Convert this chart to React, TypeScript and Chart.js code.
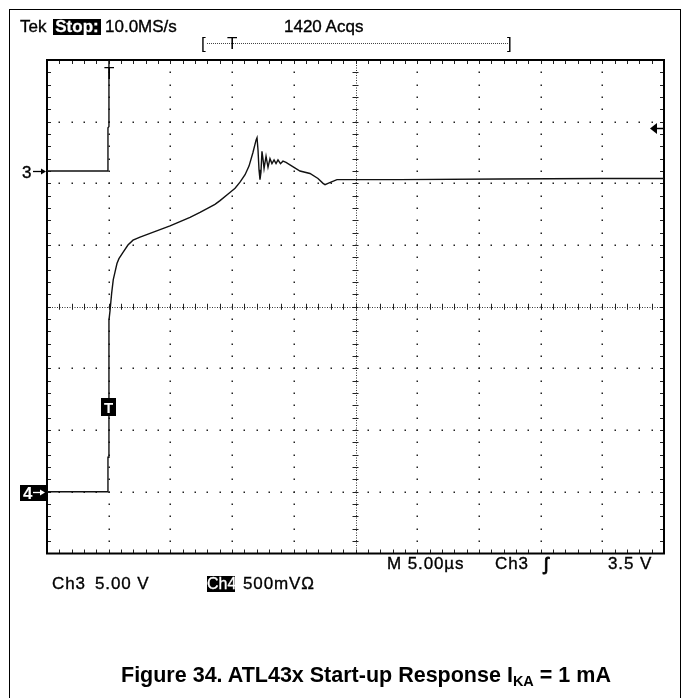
import React, { useEffect, useRef } from "react";
import { Chart, registerables } from "chart.js";

Chart.register(...registerables);

// ---- data (time in µs, volts per channel) ----
const ch4TimeUs = [
  0, 4.94, 4.94, 5.02, 5.02, 5.11, 5.24, 5.37, 5.51, 5.67, 5.83, 6.16, 6.56, 6.97, 7.54, 8.35, 9.16,
  9.97, 10.78, 11.59, 12.4, 12.97, 13.61, 14.02, 14.75, 15.24, 15.64, 16.05, 16.37, 16.69, 16.94,
  17.02, 17.1, 17.18, 17.26, 17.34, 17.42, 17.5, 17.59, 17.75, 17.91, 18.07, 18.23, 18.4, 18.56,
  18.72, 18.92, 19.12, 19.37, 19.69, 20.5, 21.31, 21.96, 22.37, 22.53, 22.77, 23.01, 23.5, 24.96,
  28.61, 36.71, 44.81, 50,
];
const ch4Volts = [
  0, 0, 0.28, 0.28, 1.39, 1.47, 1.61, 1.72, 1.78, 1.85, 1.89, 1.94, 2.0, 2.04, 2.065, 2.095, 2.125,
  2.155, 2.19, 2.225, 2.265, 2.295, 2.33, 2.36, 2.42, 2.46, 2.51, 2.57, 2.64, 2.75, 2.85,
  2.87, 2.77, 2.61, 2.53, 2.59, 2.76, 2.7, 2.62, 2.72, 2.63, 2.7, 2.66, 2.69, 2.66,
  2.69, 2.66, 2.68, 2.67, 2.65, 2.6, 2.58, 2.54, 2.5, 2.49, 2.5, 2.51, 2.53, 2.53,
  2.53, 2.535, 2.54, 2.54,
];
const ch3TimeUs = [0, 4.94, 4.94, 5.02, 5.02];
const ch3Volts = [0, 0, 3.5, 3.6, 12];

const timeDivTicksUs = [0, 5, 10, 15, 20, 25, 30, 35, 40, 45, 50];
const ch4DivTicksV = [-0.5, 0, 0.5, 1, 1.5, 2, 2.5, 3, 3.5];
const ch3RangeV = [-31, 9];
const ch3TriggerLevelV = 3.5;
const triggerTimeUs = 5;
const minorPerDiv = 5;

const FONT = '"Liberation Sans", Arial, Helvetica, sans-serif';

const graticule = {
  id: "graticule",
  beforeDatasetsDraw(chart: any) {
    const { ctx, chartArea: a, scales } = chart;
    const xs = scales.x;
    const ys = scales.y4;
    const xp = timeDivTicksUs.map((v) => xs.getPixelForValue(v));
    const yp = ch4DivTicksV.map((v) => ys.getPixelForValue(v));
    const nX = xp.length - 1;
    const nY = yp.length - 1;
    const cx = xp[nX / 2];
    const cy = yp[nY / 2];
    const dx = (a.right - a.left) / nX / minorPerDiv;
    const dy = (a.bottom - a.top) / nY / minorPerDiv;
    ctx.save();
    ctx.fillStyle = "#222";
    const dot = (x: number, y: number) => ctx.fillRect(Math.round(x) - 0.5, Math.round(y) - 0.5, 1.5, 1.5);
    for (let i = 1; i < nX; i++) {
      if (i === nX / 2) continue;
      for (let k = 1; k < nY * minorPerDiv; k++) dot(xp[i], a.top + k * dy);
    }
    for (let j = 1; j < nY; j++) {
      if (j === nY / 2) continue;
      for (let k = 1; k < nX * minorPerDiv; k++) dot(a.left + k * dx, yp[j]);
    }
    ctx.strokeStyle = "#333";
    ctx.lineWidth = 1;
    ctx.setLineDash([1, 1.5]);
    ctx.beginPath();
    ctx.moveTo(a.left, Math.round(cy) + 0.5);
    ctx.lineTo(a.right, Math.round(cy) + 0.5);
    ctx.moveTo(Math.round(cx) + 0.5, a.top);
    ctx.lineTo(Math.round(cx) + 0.5, a.bottom);
    ctx.stroke();
    ctx.setLineDash([]);
    ctx.strokeStyle = "#222";
    ctx.beginPath();
    for (let k = 1; k < nX * minorPerDiv; k++) {
      const x = Math.round(a.left + k * dx) + 0.5;
      ctx.moveTo(x, cy - 3);
      ctx.lineTo(x, cy + 3);
      ctx.moveTo(x, a.top);
      ctx.lineTo(x, a.top + 4);
      ctx.moveTo(x, a.bottom);
      ctx.lineTo(x, a.bottom - 4);
    }
    for (let k = 1; k < nY * minorPerDiv; k++) {
      const y = Math.round(a.top + k * dy) + 0.5;
      ctx.moveTo(cx - 3, y);
      ctx.lineTo(cx + 3, y);
      ctx.moveTo(a.left, y);
      ctx.lineTo(a.left + 4, y);
      ctx.moveTo(a.right, y);
      ctx.lineTo(a.right - 4, y);
    }
    ctx.stroke();
    ctx.strokeStyle = "#000";
    ctx.lineWidth = 2;
    ctx.strokeRect(a.left, a.top, a.right - a.left, a.bottom - a.top);
    ctx.restore();
  },
};

const markers = {
  id: "markers",
  afterDraw(chart: any) {
    const { ctx, chartArea: a, scales } = chart;
    ctx.save();
    const arrow = (x0: number, x1: number, y: number, color: string) => {
      ctx.strokeStyle = color;
      ctx.fillStyle = color;
      ctx.lineWidth = 1.3;
      ctx.beginPath();
      ctx.moveTo(x0, y);
      ctx.lineTo(x1 - 4, y);
      ctx.stroke();
      ctx.beginPath();
      ctx.moveTo(x1, y);
      ctx.lineTo(x1 - 5, y - 3);
      ctx.lineTo(x1 - 5, y + 3);
      ctx.closePath();
      ctx.fill();
    };
    const y3 = Math.round(scales.y3.getPixelForValue(0)) + 0.5;
    arrow(33, a.left - 1, y3, "#000");
    const y4 = Math.round(scales.y4.getPixelForValue(0)) + 0.5;
    ctx.fillStyle = "#000";
    ctx.fillRect(20, y4 - 7.5, a.left - 20, 16);
    arrow(33, a.left - 2, y4, "#fff");
    const xt = scales.x.getPixelForValue(triggerTimeUs);
    ctx.fillStyle = "#000";
    ctx.fillRect(Math.round(xt) - 8, 398, 15, 18);
    const yl = Math.round(scales.y3.getPixelForValue(ch3TriggerLevelV)) + 0.5;
    ctx.fillStyle = "#000";
    ctx.beginPath();
    ctx.moveTo(a.right - 14, yl);
    ctx.lineTo(a.right - 7, yl - 5.5);
    ctx.lineTo(a.right - 7, yl + 5.5);
    ctx.closePath();
    ctx.fill();
    ctx.strokeStyle = "#000";
    ctx.lineWidth = 1.5;
    ctx.beginPath();
    ctx.moveTo(a.right - 8, yl);
    ctx.lineTo(a.right, yl);
    ctx.stroke();
    ctx.restore();
  },
};

const heavy = { WebkitTextStroke: "0.35px #000" };

function Txt(props: { x: number; base: number; fs?: number; children: any; style?: any }) {
  const fs = props.fs ?? 17;
  return (
    <div
      style={{
        position: "absolute",
        left: props.x,
        top: props.base - 0.8465 * fs,
        fontSize: fs,
        lineHeight: `${fs}px`,
        fontFamily: FONT,
        whiteSpace: "nowrap",
        color: "#000",
        ...(props.style || {}),
      }}
    >
      {props.children}
    </div>
  );
}

function Box(props: { x: number; y: number; w: number; h: number; text: string; fs?: number; bold?: boolean }) {
  const fs = props.fs ?? 17;
  return (
    <div
      style={{
        position: "absolute",
        left: props.x,
        top: props.y,
        width: props.w,
        height: props.h,
        background: "#000",
        color: "#fff",
        fontFamily: FONT,
        fontSize: fs,
        fontWeight: props.bold ? "bold" : "normal",
        lineHeight: `${props.h}px`,
        textAlign: "center",
        whiteSpace: "nowrap",
        WebkitTextStroke: "0.3px #fff",
      }}
    >
      {props.text}
    </div>
  );
}

export default function App() {
  const ref = useRef<HTMLCanvasElement>(null);
  useEffect(() => {
    document.body.style.margin = "0";
    const chart = new Chart(ref.current as HTMLCanvasElement, {
      type: "line",
      data: {
        datasets: [
          {
            label: "Ch4",
            data: ch4TimeUs.map((t, i) => ({ x: t, y: ch4Volts[i] })),
            yAxisID: "y4",
            borderColor: "#111",
            borderWidth: 1.4,
            pointRadius: 0,
            tension: 0,
          },
          {
            label: "Ch3",
            data: ch3TimeUs.map((t, i) => ({ x: t, y: ch3Volts[i] })),
            yAxisID: "y3",
            borderColor: "#111",
            borderWidth: 1.4,
            pointRadius: 0,
            tension: 0,
          },
        ],
      },
      options: {
        animation: false,
        responsive: false,
        devicePixelRatio: 1,
        events: [],
        layout: { padding: { left: 47, top: 60, right: 19, bottom: 144.5 } },
        plugins: { legend: { display: false }, tooltip: { enabled: false } },
        scales: {
          x: { type: "linear", min: timeDivTicksUs[0], max: timeDivTicksUs[timeDivTicksUs.length - 1], display: false },
          y4: { type: "linear", min: ch4DivTicksV[0], max: ch4DivTicksV[ch4DivTicksV.length - 1], display: false },
          y3: { type: "linear", min: ch3RangeV[0], max: ch3RangeV[1], display: false },
        },
      },
      plugins: [graticule, markers],
    } as any);
    return () => chart.destroy();
  }, []);

  const bottom = { ...heavy, letterSpacing: "0.9px" };

  return (
    <div style={{ position: "relative", width: 683, height: 698, background: "#fff", overflow: "hidden" }}>
      <div
        style={{
          position: "absolute",
          left: 9,
          top: 9,
          width: 670,
          height: 720,
          borderLeft: "1.5px solid #000",
          borderTop: "1.5px solid #000",
          borderRight: "1.5px solid #000",
        }}
      />
      <canvas ref={ref} width={683} height={698} style={{ position: "absolute", left: 0, top: 0, width: 683, height: 698 }} />
      {/* header */}
      <Txt x={20} base={32} style={heavy}>Tek</Txt>
      <Box x={53} y={19} w={48} h={16} text="Stop:" bold />
      <Txt x={105} base={32} style={heavy}>10.0MS/s</Txt>
      <Txt x={284} base={32} style={heavy}>1420 Acqs</Txt>
      <Txt x={201} base={49}>[</Txt>
      <div style={{ position: "absolute", left: 207, top: 43, width: 301, borderTop: "1px dotted #444" }} />
      <Txt x={227} base={49}>T</Txt>
      <Txt x={507} base={49}>]</Txt>
      {/* markers */}
      <Txt x={22} base={178} style={heavy}>3</Txt>
      <Txt x={23} base={499} style={{ color: "#fff", fontWeight: "bold" }}>4</Txt>
      <Txt x={104} base={413} fs={15} style={{ color: "#fff", fontWeight: "bold" }}>T</Txt>
      <Txt x={104} base={79}>T</Txt>
      {/* bottom rows */}
      <Txt x={387} base={569} style={bottom}>M 5.00µs</Txt>
      <Txt x={495} base={569} style={bottom}>Ch3</Txt>
      <Txt x={544} base={570} fs={19} style={{ ...heavy, WebkitTextStroke: "0.8px #000" }}>ʃ</Txt>
      <Txt x={608} base={569} style={bottom}>3.5 V</Txt>
      <Txt x={52} base={589} style={bottom}>Ch3</Txt>
      <Txt x={95} base={589} style={bottom}>5.00 V</Txt>
      <Box x={207} y={576} w={28} h={16} text="Ch4" fs={16} />
      <Txt x={243} base={589} style={bottom}>500mVΩ</Txt>
      {/* caption */}
      <Txt x={121} base={683} fs={21.5} style={{ fontWeight: "bold" }}>
        Figure 34. ATL43x Start-up Response I
        <span style={{ fontSize: 14.5, position: "relative", top: 4 }}>KA</span> = 1 mA
      </Txt>
    </div>
  );
}
